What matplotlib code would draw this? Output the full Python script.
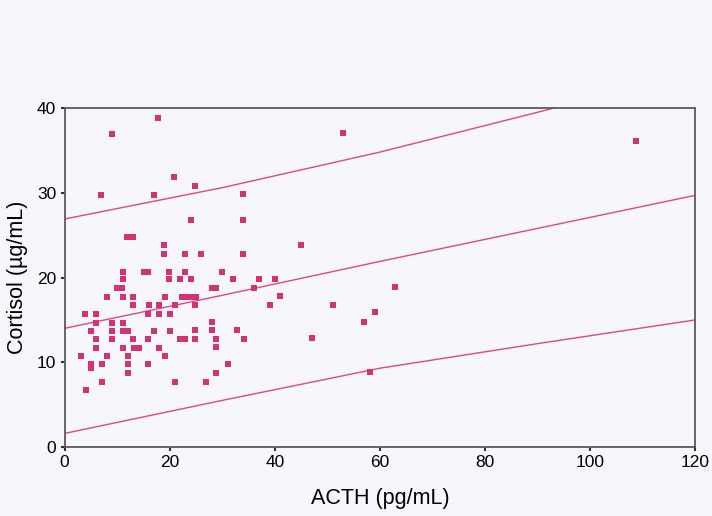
#!/usr/bin/env python3
"""Cortisol vs ACTH scatter with fitted line and prediction bands.

Output: out.png
"""
import matplotlib
matplotlib.use('Agg')
import matplotlib.pyplot as plt

# --- Data -------------------------------------------------------------------
acth = [17.8, 9.0, 53.0, 108.7, 20.8, 24.8, 6.9, 17.0, 34.0, 24.0,
        34.0, 11.9, 13.0, 19.0, 44.9, 19.0, 22.9, 26.0, 34.0, 11.1,
        15.1, 15.9, 19.9, 22.9, 30.0, 11.1, 19.9, 21.9, 24.0, 32.1,
        37.0, 40.1, 10.0, 10.9, 28.0, 28.9, 36.1, 62.9, 8.0, 11.1,
        13.1, 19.1, 22.3, 23.2, 24.2, 25.1, 41.0, 13.1, 16.0, 18.0,
        21.0, 24.9, 39.0, 51.0, 3.9, 6.0, 15.9, 18.0, 20.1, 59.1,
        6.0, 9.1, 11.1, 28.1, 57.0, 5.1, 9.1, 11.1, 12.0, 17.1,
        20.1, 24.9, 28.1, 32.9, 6.0, 9.1, 13.1, 15.9, 22.0, 23.0,
        24.9, 28.9, 34.1, 47.1, 6.0, 11.1, 13.2, 14.1, 18.0, 28.9,
        3.1, 8.0, 12.0, 19.2, 5.1, 5.1, 7.1, 12.0, 15.9, 31.0,
        12.0, 28.9, 58.1, 7.1, 21.0, 26.9, 4.0]
cortisol = [38.8, 36.9, 37.0, 36.1, 31.8, 30.8, 29.7, 29.7, 29.8, 26.8,
            26.8, 24.8, 24.8, 23.8, 23.8, 22.8, 22.8, 22.8, 22.8, 20.7,
            20.7, 20.7, 20.7, 20.7, 20.7, 19.8, 19.8, 19.8, 19.8, 19.8,
            19.8, 19.8, 18.8, 18.8, 18.8, 18.8, 18.8, 18.9, 17.7, 17.7,
            17.7, 17.7, 17.7, 17.7, 17.7, 17.7, 17.8, 16.7, 16.7, 16.7,
            16.7, 16.7, 16.8, 16.8, 15.7, 15.7, 15.7, 15.7, 15.7, 15.9,
            14.6, 14.6, 14.6, 14.7, 14.8, 13.7, 13.7, 13.7, 13.7, 13.7,
            13.7, 13.8, 13.8, 13.8, 12.7, 12.7, 12.7, 12.7, 12.8, 12.8,
            12.8, 12.8, 12.8, 12.9, 11.7, 11.7, 11.7, 11.7, 11.7, 11.8,
            10.7, 10.7, 10.7, 10.7, 9.8, 9.3, 9.8, 9.8, 9.8, 9.8,
            8.7, 8.7, 8.8, 7.7, 7.7, 7.7, 6.7]

# regression line and 95% prediction band, sampled along ACTH
band_x = [0, 30, 60, 90, 120]
fit_y = [14.0, 17.9, 21.9, 25.8, 29.7]
upper_y = [26.9, 30.6, 34.8, 39.5, 44.3]
lower_y = [1.6, 5.5, 9.3, 12.2, 15.0]

X_TICKS = [0, 20, 40, 60, 80, 100, 120]
Y_TICKS = [0, 10, 20, 30, 40]

# --- Style ------------------------------------------------------------------
PINK = '#d4336f'
LINE_PINK = '#dc4a80'
PAPER = '#f7f6fa'
AXIS_GREY = '#5a5a5a'

plt.rcParams['font.family'] = ['Liberation Sans', 'DejaVu Sans']

fig = plt.figure(figsize=(7.12, 5.16), dpi=100, facecolor=PAPER)
ax = fig.add_axes([0.0906, 0.1337, 0.8862, 0.657], facecolor=PAPER)

ax.plot(band_x, fit_y, color=LINE_PINK, lw=1.0)
ax.plot(band_x, upper_y, color=LINE_PINK, lw=1.0)
ax.plot(band_x, lower_y, color=LINE_PINK, lw=1.0)
ax.plot(acth, cortisol, linestyle='none', marker='s', ms=4.0,
        color=PINK, markeredgewidth=0)

ax.set_xlim(0, 120)
ax.set_ylim(0, 40)
ax.set_xticks(X_TICKS)
ax.set_yticks(Y_TICKS)
ax.tick_params(direction='out', length=3, width=1.5, color='#333333',
               labelsize=12.5, pad=3)

for side in ax.spines.values():
    side.set_color(AXIS_GREY)
    side.set_linewidth(1.3)

ax.set_xlabel('ACTH (pg/mL)', fontsize=15.5, labelpad=13)
ax.set_ylabel('Cortisol (µg/mL)', fontsize=15.5, labelpad=6)

fig.savefig('out.png', dpi=100, facecolor=PAPER)
